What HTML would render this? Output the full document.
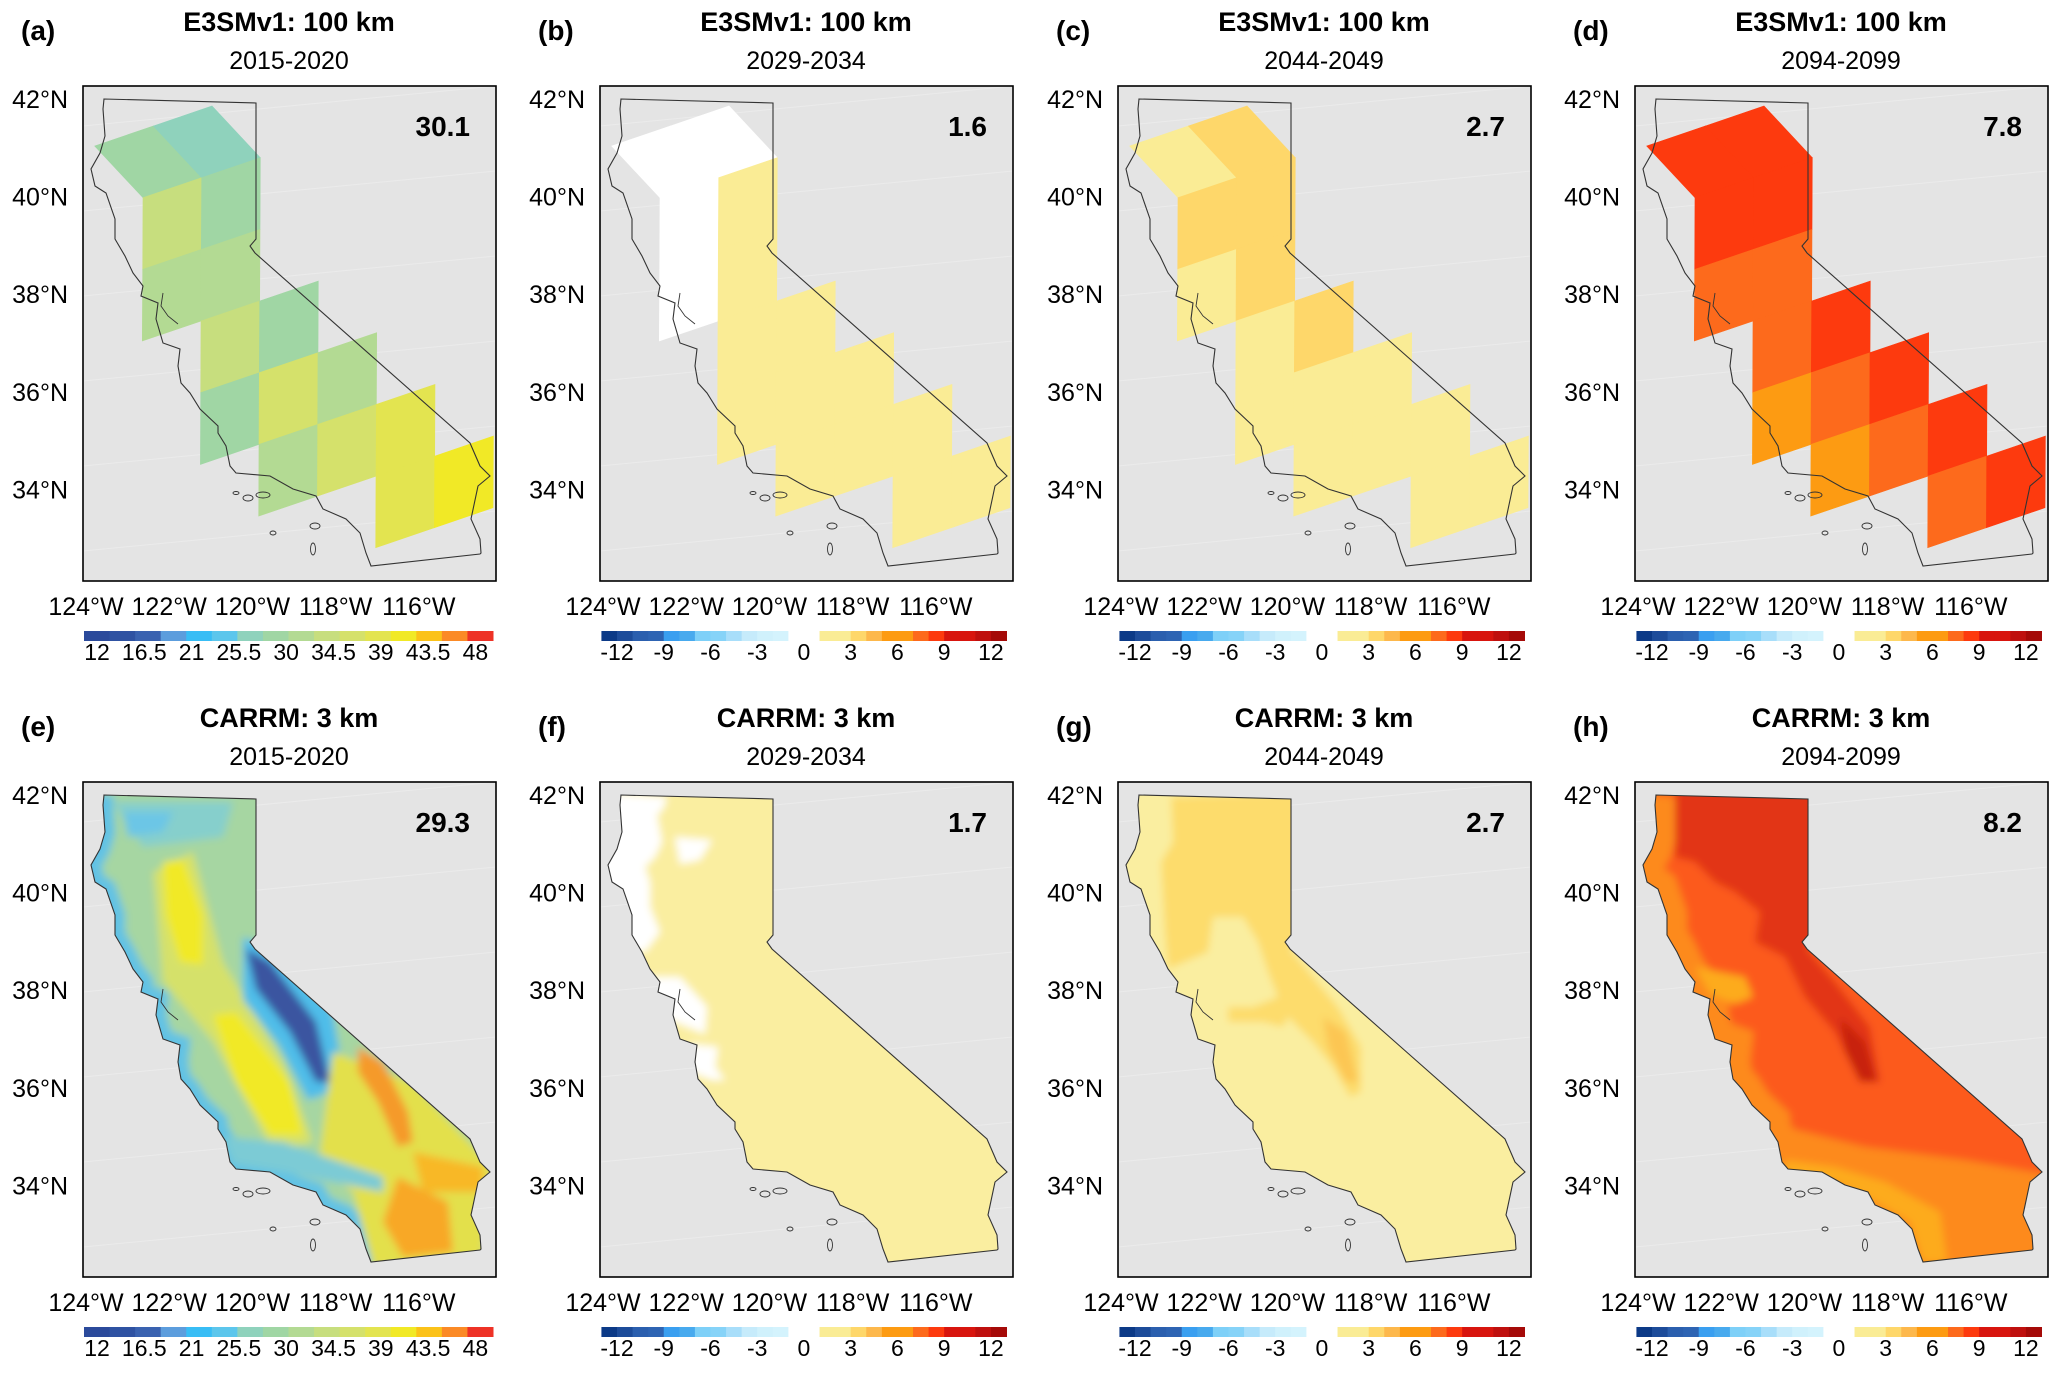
<!DOCTYPE html>
<html><head><meta charset="utf-8">
<style>
html,body{margin:0;padding:0;background:#fff;}
svg text{font-family:"Liberation Sans",Arial,sans-serif;}
</style></head>
<body>
<svg id="fig" xmlns="http://www.w3.org/2000/svg" width="2067" height="1375" viewBox="0 0 2067 1375">
<defs>
<filter id="blur" x="-20%" y="-20%" width="140%" height="140%"><feGaussianBlur stdDeviation="4"/></filter>
</defs>
</svg>
<script>
// ---------- data ----------
const panelLetters = ['(a)','(b)','(c)','(d)','(e)','(f)','(g)','(h)'];
const panelTitles = ['E3SMv1: 100 km','E3SMv1: 100 km','E3SMv1: 100 km','E3SMv1: 100 km','CARRM: 3 km','CARRM: 3 km','CARRM: 3 km','CARRM: 3 km'];
const panelPeriods = ['2015-2020','2029-2034','2044-2049','2094-2099','2015-2020','2029-2034','2044-2049','2094-2099'];
const panelMeans = ['30.1','1.6','2.7','7.8','29.3','1.7','2.7','8.2'];
const latTicks = [42,40,38,36,34];
const lonTicks = [124,122,120,118,116];
const absTickLabels = ['12','16.5','21','25.5','30','34.5','39','43.5','48'];
const diffTickLabels = ['-12','-9','-6','-3','0','3','6','9','12'];
// grid cells (column,row) of the 100 km model
const cellCols = [0,1,0,1,0,1,1,2,1,2,3,2,3,4,4,5];
const cellRows = [0,0,1,1,2,2,3,3,4,4,4,5,5,5,6,6];
const valuesA = [29,27,33,29,31,31,33,29,29,35,31,31,35,37,37,39.5];
const valuesB = [0.5,0.5,0.5,1.5,0.5,1.5,1.5,1.5,1.5,1.5,1.5,1.5,1.5,1.5,1.5,1.5];
const valuesC = [1.5,3.5,3.5,3.5,1.5,3.5,1.5,3.5,1.5,1.5,1.5,1.5,1.5,1.5,1.5,1.5];
const valuesD = [8.5,8.5,8.5,8.5,7.5,7.5,7.5,8.5,5.5,7.5,8.5,5.5,7.5,8.5,7.5,8.5];
const absColors = ['#2b4a9b','#2f52a2','#3a62b0','#5c9ddd','#38bdf5','#5cc6ec','#8fd2bc','#a0d6a4','#b3da93','#c7de7e','#d5e16b','#e3e450','#f1e926','#fbc219','#fb8a26','#ee3226'];
const diffColors = ['#0c3a87','#1d4c9a','#2b5fae','#2e64b3','#3a9ff0','#48aaee','#7ed0f8','#86d3f8','#a8defa','#c6ebfb','#d0f1fc','#d4f3fd','#ffffff','#ffffff','#faec95','#faec95','#fed76a','#fdb84c','#fd9b12','#fd9b12','#fd6a1c','#fd3a0e','#d8150e','#d8150e','#bf100e','#a50a08'];

// ---------- layout ----------
const NS='http://www.w3.org/2000/svg';
const svg=document.getElementById('fig');
const colX=[83,600,1118,1635], rowY=[86,782], BW=413, BH=495;
const absMin=12, absStep=2.25;
const diffMin=-13, diffStep=1;
function absColor(v){let i=Math.floor((v-absMin)/absStep);i=Math.max(0,Math.min(absColors.length-1,i));return absColors[i];}
function diffColor(v){let i=Math.floor((v-diffMin)/diffStep);i=Math.max(0,Math.min(diffColors.length-1,i));return diffColors[i];}
function el(tag,attrs,parent){const e=document.createElementNS(NS,tag);for(const k in attrs)e.setAttribute(k,attrs[k]);(parent||svg).appendChild(e);return e;}
function txt(s,x,y,size,anchor,weight,parent){const t=el('text',{x:x,y:y,'font-size':size,'text-anchor':anchor||'middle','font-weight':weight||'normal',fill:'#000'},parent);t.textContent=s;return t;}
function pts(a){return a.map(p=>p[0].toFixed(1)+','+p[1].toFixed(1)).join(' ');}

const caOutline=[[21,13],[173,17],[173,153],[167,160],[172,167],[387,357],[397,380],[407,390],[395,400],[388,433],[397,453],[398,467],[397,468],[288,480],[283,467],[277,447],[263,433],[240,423],[233,410],[210,403],[187,390],[153,387],[147,380],[143,360],[135,347],[135,340],[117,323],[107,307],[98,297],[95,280],[97,263],[80,257],[73,233],[75,217],[58,210],[60,200],[50,187],[42,170],[32,153],[32,133],[23,107],[12,100],[8,83],[17,67],[22,50],[20,23]];
const islands=[[153,407,3,1.5],[165,412,5,3],[180,409,7,3],[190,447,3,2],[232,440,5,3],[230,463,2.5,6]];

// lattice for 100-km cells
const nodeBase=[60,111.7], uVec=[58.67,-20], vVec=[-0.33,71.67], wVec=[-48.3,-51.7];
function node(i,j){
  if(j===0){const n=node(i,1);return [n[0]+wVec[0],n[1]+wVec[1]];}
  return [nodeBase[0]+i*uVec[0]+(j-1)*vVec[0], nodeBase[1]+i*uVec[1]+(j-1)*vVec[1]];
}

function latY(lat){return 13+(42-lat)*48.8;}
function lonX(lon){return 3+(124-lon)*41.6;}

for(let p=0;p<8;p++){
  const r=Math.floor(p/4), c=p%4, x0=colX[c], y0=rowY[r];
  const g=el('g',{transform:`translate(${x0},${y0})`});
  
  
  const cp=el('clipPath',{id:'clipca'+p},g);
  el('polygon',{points:pts(caOutline)},cp);
  const cpb=el('clipPath',{id:'clipbox'+p},g);
  el('rect',{x:0,y:0,width:BW,height:BH},cpb);
  const bg=el('rect',{x:0,y:0,width:BW,height:BH,fill:'#e4e4e4'},g);
  
  
  for(let k=0;k<6;k++){el('line',{x1:0,y1:40+k*85,x2:BW,y2:0+k*85,stroke:'#ebebeb','stroke-width':1},g);}
  const inner=el('g',{'clip-path':`url(#clipbox${p})`},g);
  if(r===0){
    const vals=[valuesA,valuesB,valuesC,valuesD][c];
    for(let k=0;k<vals.length;k++){
      const i=cellCols[k], j=cellRows[k];
      const poly=[node(i,j),node(i+1,j),node(i+1,j+1),node(i,j+1)];
      const col=(c===0)?absColor(vals[k]):diffColor(vals[k]);
      const cell=el('polygon',{points:pts(poly),fill:col,stroke:col,'stroke-width':0.6},inner);
      
      
    }
  } else {
    const fg=el('g',{'clip-path':`url(#clipca${p})`},inner);
    
    
    const bl=el('g',{filter:'url(#blur)'},fg);
    const add=(poly,fill)=>el('polygon',{points:pts(poly),fill:fill},bl);
    if(c===0){
      el('rect',{x:-20,y:-20,width:460,height:540,fill:'#a6d6a2'},bl);
      el('polyline',{points:pts(caOutline.slice(13).concat([caOutline[0]])),fill:'none',stroke:'#62c2e4','stroke-width':20},bl);
      add([[30,20],[150,20],[140,55],[60,65]],'#86cfcc');
      add([[40,30],[90,30],[80,50],[45,55]],'#6cc6e6');
      add([[70,90],[110,70],[140,180],[200,280],[230,360],[190,370],[130,260],[80,200]],'#d5e16b');
      add([[80,80],[100,77],[120,133],[120,183],[97,180],[83,133]],'#f1e926');
      add([[130,233],[153,230],[207,300],[220,353],[187,353],[153,300]],'#f1e926');
      add([[160,155],[195,170],[250,230],[262,305],[225,318],[195,262],[160,218]],'#4fbde9');
      add([[163,167],[187,180],[233,240],[247,300],[233,300],[207,250],[173,207]],'#3a54a0');
      add([[250,270],[330,300],[410,385],[400,475],[290,485],[270,410],[235,385]],'#e3e04c');
      add([[275,265],[300,280],[325,330],[330,360],[315,365],[295,320],[275,290]],'#f59a2b');
      add([[315,395],[365,420],[370,470],[320,475],[300,440]],'#f8a828');
      add([[330,370],[400,385],[400,410],[340,410]],'#f8b828');
      add([[140,355],[200,360],[300,395],[300,410],[200,390],[150,382]],'#7ccbd5');
    } else if(c===1){
      el('rect',{x:-20,y:-20,width:460,height:540,fill:'#faeea0'},bl);
      add([[0,10],[67,15],[63,27],[57,33],[62,60],[55,75],[45,85],[50,100],[50,125],[60,150],[45,170],[0,170]],'#ffffff');
      add([[75,55],[112,58],[100,78],[80,82]],'#ffffff');
      add([[50,195],[80,195],[107,225],[105,252],[80,242],[50,230]],'#ffffff');
      add([[90,262],[118,265],[115,285],[125,298],[112,298],[90,290]],'#ffffff');
    } else if(c===2){
      el('rect',{x:-20,y:-20,width:460,height:540,fill:'#faeea0'},bl);
      add([[53,15],[180,10],[180,153],[172,167],[220,225],[243,265],[243,310],[232,315],[215,285],[195,260],[170,235],[165,245],[145,240],[110,240],[110,225],[135,225],[160,215],[150,190],[140,160],[125,135],[95,135],[90,170],[50,187],[47,150],[43,80],[55,60]],'#fddc6c');
      add([[205,235],[228,250],[240,300],[228,300],[210,265]],'#fcc653');
    } else {
      el('rect',{x:-20,y:-20,width:460,height:540,fill:'#fc5a1a'},bl);
      el('polyline',{points:pts(caOutline.slice(13).concat([caOutline[0]])),fill:'none',stroke:'#fd8a1c','stroke-width':40},bl);
      add([[150,345],[230,365],[330,378],[410,392],[410,490],[150,490]],'#fd8a1c');
      add([[40,5],[180,5],[180,153],[172,167],[200,200],[235,245],[245,300],[225,300],[200,250],[170,215],[150,175],[120,160],[125,130],[100,110],[80,100],[60,80],[40,75]],'#e23614');
      add([[205,235],[230,260],[242,300],[225,300],[210,270]],'#c8200e');
      add([[60,185],[110,195],[118,215],[100,222],[75,212]],'#fdab1c');
      add([[150,378],[200,385],[250,400],[305,430],[312,480],[288,480],[275,440],[240,420],[200,400],[150,392]],'#fdab1c');
    }
  }
  const ol=el('polygon',{points:pts(caOutline),fill:'none',stroke:'#333','stroke-width':1.1},g);
  
  
  for(const is of islands){el('ellipse',{cx:is[0],cy:is[1],rx:is[2],ry:is[3],fill:'none',stroke:'#333','stroke-width':0.9},g);}
  el('polyline',{points:pts([[80,207],[78,220],[85,230],[95,238]]),fill:'none',stroke:'#333','stroke-width':0.9},g);
  const frame=el('rect',{x:0,y:0,width:BW,height:BH,fill:'none',stroke:'#000','stroke-width':1.6},g);
  
  
  const mean=txt(panelMeans[p],387,50,28,'end','bold',g);
  
  
  const lt=txt(panelLetters[p],-62,-46,28,'start','bold',g);
  
  
  const tt=txt(panelTitles[p],206,-55,27,'middle','bold',g);
  
  
  const st=txt(panelPeriods[p],206,-17,25,'middle','normal',g);
  
  
  for(const lat of latTicks){
    const t=txt(lat+'°N',-15,latY(lat)+9,25,'end','normal',g);
    
    
  }
  for(const lon of lonTicks){
    const t=txt(lon+'°W',lonX(lon),529,25,'middle','normal',g);
    
    
  }
  const cb=el('g',{},g);
  
  
  if(c===0){
    const n=absColors.length, x1=1, w=409/n;
    for(let k=0;k<n;k++){el('rect',{x:x1+k*w,y:545,width:w+0.5,height:10,fill:absColors[k]},cb);}
    absTickLabels.forEach((s,k)=>{const t=txt(s,14+k*47.3,574,23,'middle','normal',cb);
      
      });
  } else {
    const vx=v=>17+(v+12)*15.58;
    for(let k=0;k<diffColors.length;k++){const v=diffMin+k*diffStep;el('rect',{x:vx(v),y:545,width:15.58+0.5,height:10,fill:diffColors[k]},cb);}
    diffTickLabels.forEach((s,k)=>{const t=txt(s,vx(-12+k*3),574,23,'middle','normal',cb);
      
      });
  }
}
</script>
</body></html>
